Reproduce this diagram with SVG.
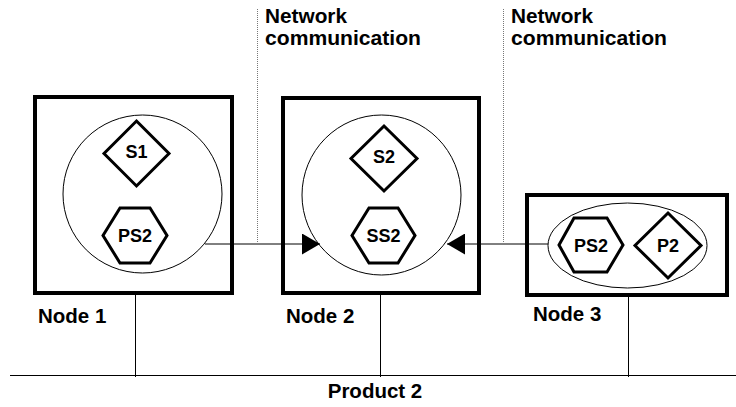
<svg xmlns="http://www.w3.org/2000/svg" width="736" height="407" viewBox="0 0 736 407">
<style>
.box{fill:none;stroke:#000;stroke-width:4}
.ring{fill:none;stroke:#000;stroke-width:1}
.shape{fill:#fff;stroke:#000;stroke-width:3;stroke-linejoin:miter}
.lbl{font-family:"Liberation Sans",Arial,sans-serif;font-weight:bold;font-size:18px;text-anchor:middle;fill:#000}
.big{font-family:"Liberation Sans",Arial,sans-serif;font-weight:bold;font-size:20.5px;fill:#000}
.net{font-family:"Liberation Sans",Arial,sans-serif;font-weight:bold;font-size:19.5px;fill:#000}
.wire{fill:none;stroke:#000;stroke-width:1}
.dot{fill:none;stroke:#777;stroke-width:1;stroke-dasharray:1 1}
</style>
<defs>
<marker id="arr" viewBox="0 0 18 21" refX="18" refY="10.5" markerWidth="18" markerHeight="21" markerUnits="userSpaceOnUse" orient="auto">
<path d="M0,0 L18,10.5 L0,21 Z" fill="#000"/>
</marker>
</defs>
<g id="annotations">
<line class="dot" x1="257.5" y1="9" x2="257.5" y2="243"/>
<line class="dot" x1="503.5" y1="9" x2="503.5" y2="243"/>
<text class="net" x="265" y="23" textLength="82" lengthAdjust="spacingAndGlyphs">Network</text>
<text class="net" x="265" y="45" textLength="156" lengthAdjust="spacingAndGlyphs">communication</text>
<text class="net" x="511" y="23" textLength="82" lengthAdjust="spacingAndGlyphs">Network</text>
<text class="net" x="511" y="45" textLength="156" lengthAdjust="spacingAndGlyphs">communication</text>
</g>
<g id="connectors">
<line class="wire" x1="205" y1="244" x2="320" y2="244" marker-end="url(#arr)"/>
<line class="wire" x1="548" y1="244" x2="447" y2="244" marker-end="url(#arr)"/>
<line class="wire" x1="10" y1="375.5" x2="736" y2="375.5"/>
<line class="wire" x1="135.5" y1="293" x2="135.5" y2="377"/>
<line class="wire" x1="380.5" y1="293" x2="380.5" y2="377"/>
<line class="wire" x1="628.5" y1="295" x2="628.5" y2="377"/>
</g>
<g id="node1">
<rect class="box" x="35" y="97" width="197" height="196"/>
<ellipse class="ring" cx="142.5" cy="194" rx="79.5" ry="79"/>
<polygon class="shape" points="136.5,121 169,153.5 136.5,186 104,153.5"/>
<text class="lbl" x="136.5" y="157.5">S1</text>
<polygon class="shape" points="103,235.5 120,208 150,208 167,235.5 150,263 120,263"/>
<text class="lbl" x="135" y="242">PS2</text>
<text class="big" x="38" y="323">Node 1</text>
</g>
<g id="node2">
<rect class="box" x="283" y="98" width="196" height="195"/>
<ellipse class="ring" cx="381.5" cy="195" rx="79.5" ry="80"/>
<polygon class="shape" points="384,126 417,158.5 384,191 351,158.5"/>
<text class="lbl" x="384" y="162.5">S2</text>
<polygon class="shape" points="352,235.5 369,208 398,208 415,235.5 398,263 369,263"/>
<text class="lbl" x="383.5" y="242">SS2</text>
<text class="big" x="286" y="323">Node 2</text>
</g>
<g id="node3">
<rect class="box" x="527" y="195" width="200" height="100"/>
<ellipse class="ring" cx="627.5" cy="245.5" rx="79.5" ry="42.5"/>
<polygon class="shape" points="559,245 574,218 607,218 623,245 607,272 574,272"/>
<text class="lbl" x="591" y="251.5">PS2</text>
<polygon class="shape" points="668,213 701,245.5 668,278 635,245.5"/>
<text class="lbl" x="668" y="251.5">P2</text>
<text class="big" x="533" y="321">Node 3</text>
</g>
<g id="product">
<text class="big" x="375" y="398" text-anchor="middle">Product 2</text>
</g>
</svg>
